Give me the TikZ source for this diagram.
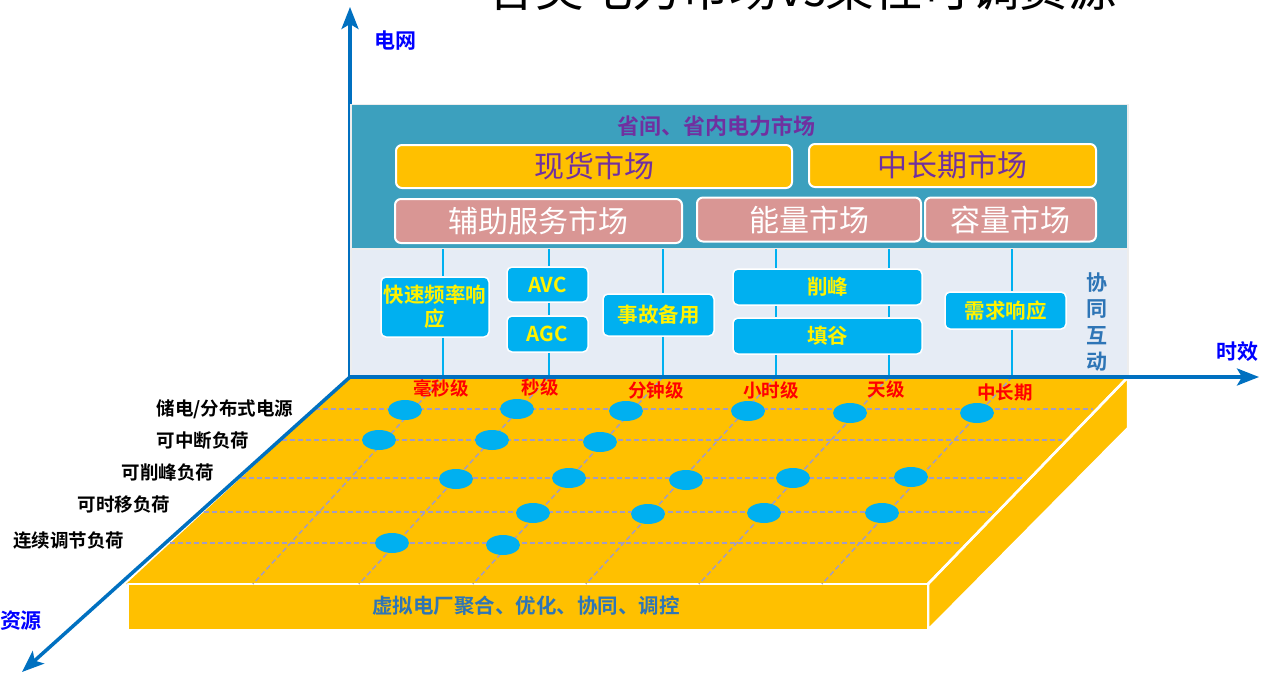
\documentclass[tikz,border=0pt]{standalone}
\usepackage{fontspec}
\setmainfont{Noto Sans CJK SC}[BoldFont={Noto Sans CJK SC Bold}]
\usetikzlibrary{arrows.meta,shapes.geometric}
\definecolor{axblue}{HTML}{0070C0}
\definecolor{lblblue}{HTML}{0000FF}
\definecolor{teal1}{HTML}{3CA0BE}
\definecolor{pale}{HTML}{E6ECF5}
\definecolor{gold}{HTML}{FFC000}
\definecolor{rose}{HTML}{D99694}
\definecolor{mkpurple}{HTML}{7030A0}
\definecolor{cyan1}{HTML}{00B0F0}
\definecolor{gridc}{HTML}{A29CC4}
\definecolor{dkblue}{HTML}{2E75B6}
\definecolor{edgegray}{HTML}{EDEDED}
\newcommand{\myfs}[1]{\fontsize{#1}{#1}\selectfont}
\begin{document}
\begin{tikzpicture}[x=1pt,y=-1pt,
  axisline/.style={draw=axblue,line width=3.5pt,-{Stealth[length=22pt,width=17pt,inset=5pt]}},
  mkbox/.style={draw=white,line width=2pt,rounded corners=6pt,inner sep=0pt,font=\myfs{30}},
  goldbox/.style={mkbox,fill=gold,text=mkpurple},
  rosebox/.style={mkbox,fill=rose,text=white},
  subbox/.style={draw=white,line width=1.5pt,rounded corners=5pt,fill=cyan1,text=yellow,
    font=\bfseries\fontsize{20.5}{24}\selectfont,inner sep=0pt,align=center},
  vline/.style={draw=cyan1,line width=1.2pt},
  gridline/.style={draw=gridc,line width=1.5pt,dash pattern=on 5pt off 3pt},
  dot/.style={ellipse,fill=cyan1,minimum width=34pt,minimum height=20pt,inner sep=0pt},
  rowlabel/.style={anchor=east,font=\bfseries\myfs{18.5},text=black},
  timelabel/.style={font=\bfseries\myfs{18.5},text=red},
  axlabel/.style={font=\bfseries\myfs{21},text=lblblue},
  facefill/.style={fill=gold,draw=white,line width=2.5pt,line join=round}]
\useasboundingbox (0,0) rectangle (1261,677);

% title (cut off at the top)
\node[anchor=base,font=\myfs{48.5},text=black] (title) at (802,7) {各类电力市场vs柔性可调资源};

% origin and axis tips
\coordinate (O) at (350,377);
\coordinate (Ytip) at (350,7);
\coordinate (Xtip) at (1259,377);
\coordinate (Ztip) at (22,672);
\draw[axisline] (O) -- (Ytip);

% panels
\node[draw=edgegray,line width=1.5pt,fill=teal1,minimum width=777pt,minimum height=145pt,inner sep=0pt] (toppanel) at (739.5,177) {};
\node[draw=edgegray,line width=1.5pt,fill=pale,minimum width=777pt,minimum height=128pt,inner sep=0pt] (lowpanel) at (739.5,313) {};

\node[font=\bfseries\myfs{22},text=mkpurple] (mkttitle) at (716,126) {省间、省内电力市场};
\node[goldbox,minimum width=396pt,minimum height=43pt] (spot) at (594,166.5) {现货市场};
\node[goldbox,minimum width=287pt,minimum height=43pt] (mid) at (952.5,165.5) {中长期市场};
\node[rosebox,minimum width=287pt,minimum height=44pt] (aux) at (538.5,221) {辅助服务市场};
\node[rosebox,minimum width=224pt,minimum height=44pt] (energy) at (809,219.5) {能量市场};
\node[rosebox,minimum width=171pt,minimum height=44pt] (cap) at (1010.5,219.5) {容量市场};

% sub boxes
\node[subbox,minimum width=108pt,minimum height=60pt] (ffr) at (435,307) {快速频率响\\应};
\node[subbox,minimum width=81pt,minimum height=35pt] (avc) at (547.5,284.5) {AVC};
\node[subbox,minimum width=81pt,minimum height=36pt] (agc) at (547.5,334) {AGC};
\node[subbox,minimum width=111pt,minimum height=42pt] (res) at (658.5,315) {事故备用};
\node[subbox,minimum width=189pt,minimum height=36pt] (peak) at (827.5,287) {削峰};
\node[subbox,minimum width=189pt,minimum height=36pt] (valley) at (827.5,336) {填谷};
\node[subbox,minimum width=121pt,minimum height=37pt] (dr) at (1005.5,310.5) {需求响应};

\node[font=\bfseries\fontsize{21}{26.5}\selectfont,text=dkblue,align=center,inner sep=0pt] (coop) at (1097,322)
  {协\\同\\互\\动};

% column tops (on the platform top edge) and panel boundary points
\coordinate (p1) at (443,249); \coordinate (c1t) at (443,377); \coordinate (c1b) at (253,584);
\coordinate (p2) at (549,249); \coordinate (c2t) at (549,377); \coordinate (c2b) at (359,584);
\coordinate (p3) at (663,249); \coordinate (c3t) at (663,377); \coordinate (c3b) at (473,584);
\coordinate (p4) at (776,249); \coordinate (c4t) at (776,377); \coordinate (c4b) at (586,584);
\coordinate (p5) at (889,249); \coordinate (c5t) at (889,377); \coordinate (c5b) at (699,584);
\coordinate (p6) at (1012,249); \coordinate (c6t) at (1012,377); \coordinate (c6b) at (822,584);

\draw[vline] (p1) -- (p1 |- ffr.north);  \draw[vline] (ffr.south -| p1) -- (c1t);
\draw[vline] (p2) -- (p2 |- avc.north);  \draw[vline] (avc.south -| p2) -- (agc.north -| p2);
\draw[vline] (agc.south -| p2) -- (c2t);
\draw[vline] (p3) -- (p3 |- res.north);  \draw[vline] (res.south -| p3) -- (c3t);
\draw[vline] (p4) -- (p4 |- peak.north); \draw[vline] (peak.south -| p4) -- (valley.north -| p4);
\draw[vline] (valley.south -| p4) -- (c4t);
\draw[vline] (p5) -- (p5 |- peak.north); \draw[vline] (peak.south -| p5) -- (valley.north -| p5);
\draw[vline] (valley.south -| p5) -- (c5t);
\draw[vline] (p6) -- (p6 |- dr.north);   \draw[vline] (dr.south -| p6) -- (c6t);

% platform
\coordinate (TL) at (350,377); \coordinate (TR) at (1128,377);
\coordinate (BR) at (928,584); \coordinate (BL) at (126,584);
\coordinate (RR) at (1128,428); \coordinate (FBR) at (928,630); \coordinate (FBL) at (128,630);
\path[fill=gold] (TL) -- (TR) -- (BR) -- (BL) -- cycle;
\path[facefill] (BR) -- (TR) -- (RR) -- (FBR) -- cycle;
\node[facefill,minimum width=800pt,minimum height=46pt,inner sep=0pt] (front) at (528,607) {};
\node[font=\bfseries\myfs{20.5},text=dkblue] (vpp) at (526,606) {虚拟电厂聚合、优化、协同、调控};
\draw[white,line width=2.5pt] (BR) -- (TR);

% grid rows
\coordinate (r1l) at (315,409); \coordinate (r1r) at (1093,409);
\coordinate (r2l) at (282,440); \coordinate (r2r) at (1062,440);
\coordinate (r3l) at (241,478); \coordinate (r3r) at (1025,478);
\coordinate (r4l) at (204,512); \coordinate (r4r) at (992,512);
\coordinate (r5l) at (170,543); \coordinate (r5r) at (960,543);
\foreach \r in {1,...,5} {\draw[gridline] (r\r l) -- (r\r r);}
\foreach \c in {1,...,6} {\draw[gridline] (c\c t) -- (c\c b);}

% dots
\node[dot] (d11) at (405,410) {};
\node[dot] (d12) at (517,409) {};
\node[dot] (d13) at (626,411) {};
\node[dot] (d14) at (748,411) {};
\node[dot] (d15) at (850,413) {};
\node[dot] (d16) at (977,413) {};
\node[dot] (d21) at (379,440) {};
\node[dot] (d22) at (492,440) {};
\node[dot] (d23) at (600,442) {};
\node[dot] (d32) at (456,479) {};
\node[dot] (d33) at (569,478) {};
\node[dot] (d34) at (686,480) {};
\node[dot] (d35) at (793,478) {};
\node[dot] (d36) at (911,477) {};
\node[dot] (d43) at (533,513) {};
\node[dot] (d44) at (648,514) {};
\node[dot] (d45) at (764,513) {};
\node[dot] (d46) at (882,513) {};
\node[dot] (d51) at (392,543) {};
\node[dot] (d52) at (503,545) {};

% axes on top
\draw[axisline] (O) -- (Xtip);
\draw[axisline] (O) -- (Ztip);

% axis labels
\node[axlabel] (lgrid) at (395,41) {电网};
\node[axlabel] (ltime) at (1237,352) {时效};
\node[axlabel] (lres) at (21,621) {资源};

% time labels
\node[timelabel] (t1) at (441,388) {毫秒级};
\node[timelabel] (t2) at (540,387) {秒级};
\node[timelabel] (t3) at (656,390) {分钟级};
\node[timelabel] (t4) at (771,390) {小时级};
\node[timelabel] (t5) at (886,389) {天级};
\node[timelabel] (t6) at (1005,392) {中长期};

% row labels
\node[rowlabel] (l1) at (297,409) {储电/分布式电源};
\node[rowlabel] (l2) at (253,440) {可中断负荷};
\node[rowlabel] (l3) at (218,472) {可削峰负荷};
\node[rowlabel] (l4) at (174,505) {可时移负荷};
\node[rowlabel] (l5) at (128,541) {连续调节负荷};
\end{tikzpicture}
\end{document}
